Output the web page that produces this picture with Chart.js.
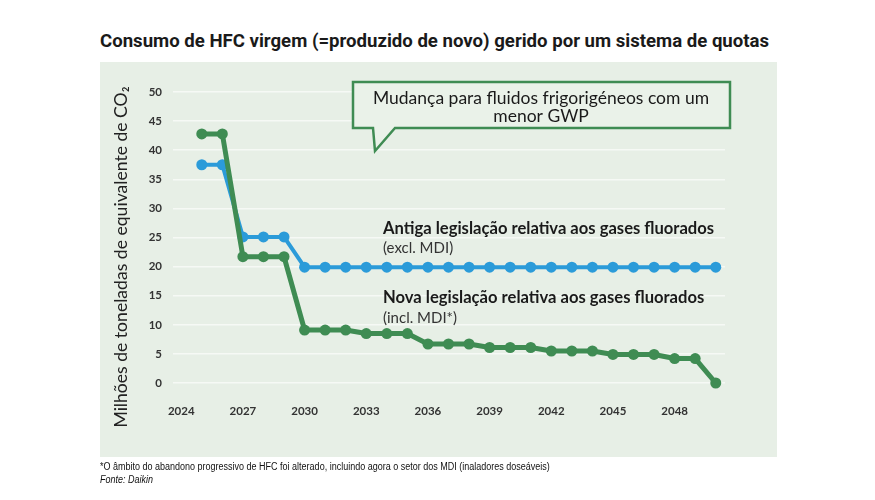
<!DOCTYPE html>
<html lang="pt">
<head>
<meta charset="utf-8">
<title>Consumo de HFC virgem</title>
<script src="https://cdn.jsdelivr.net/npm/chart.js@4.4.1/dist/chart.umd.min.js"></script>
<style>
  html, body { margin: 0; padding: 0; background: #fff; }
  #page { position: relative; width: 875px; height: 500px; overflow: hidden; }
  #title {
    position: absolute; left: 100px; top: 30px;
    font: bold 18.6px "Liberation Sans Narrow", "Roboto", sans-serif;
    color: #1a1a1a; white-space: nowrap;
  }
  #panel { position: absolute; left: 100px; top: 62px; width: 677px; height: 395px; background: #e7efe6; }
  #chart { position: absolute; left: 0; top: 0; }
  #note {
    position: absolute; left: 100px; top: 460px;
    font: 10px "Liberation Sans", sans-serif;
    color: #111; line-height: 13px; white-space: nowrap;
    transform: scaleX(0.9); transform-origin: left top;
  }
</style>
</head>
<body>
<div id="page">
  <div id="title">Consumo de HFC virgem (=produzido de novo) gerido por um sistema de quotas</div>
  <div id="panel"></div>
  <canvas id="chart" width="875" height="500"></canvas>
  <div id="note">*O âmbito do abandono progressivo de HFC foi alterado, incluindo agora o setor dos MDI (inaladores doseáveis)<br><em>Fonte: Daikin</em></div>
</div>
<script>
// data (milhões de t CO2-eq)
const years = [2025, 2026, 2027, 2028, 2029, 2030, 2031, 2032, 2033, 2034, 2035, 2036, 2037,
               2038, 2039, 2040, 2041, 2042, 2043, 2044, 2045, 2046, 2047, 2048, 2049, 2050];
const oldRegulation = [37.5, 37.5, 25.1, 25.1, 25.1, 19.9, 19.9, 19.9, 19.9, 19.9, 19.9, 19.9, 19.9,
                       19.9, 19.9, 19.9, 19.9, 19.9, 19.9, 19.9, 19.9, 19.9, 19.9, 19.9, 19.9, 19.9];
const newRegulation = [42.8, 42.8, 21.7, 21.7, 21.7, 9.1, 9.1, 9.1, 8.5, 8.5, 8.5, 6.7, 6.7,
                       6.7, 6.1, 6.1, 6.1, 5.5, 5.5, 5.5, 4.9, 4.9, 4.9, 4.2, 4.2, 0];
const xTicks = [2024, 2027, 2030, 2033, 2036, 2039, 2042, 2045, 2048];
const yTicks = [0, 5, 10, 15, 20, 25, 30, 35, 40, 45, 50];

const blue = "#2b9bd9";
const green = "#3f8c53";

// callout + series labels + y title
const notes = {
  id: "notes",
  afterDraw(chart) {
    const ctx = chart.ctx;
    ctx.save();

    // y axis title
    ctx.save();
    ctx.translate(121, 257);
    ctx.rotate(-Math.PI / 2);
    ctx.fillStyle = "#222";
    ctx.font = "17.6px Lato";
    ctx.textAlign = "center";
    ctx.textBaseline = "middle";
    ctx.fillText("Milhões de toneladas de equivalente de CO₂", 0, 0);
    ctx.restore();

    // speech bubble
    ctx.beginPath();
    ctx.moveTo(353, 82);
    ctx.lineTo(730, 82);
    ctx.lineTo(730, 128);
    ctx.lineTo(395, 128);
    ctx.lineTo(375, 151);
    ctx.lineTo(373, 128);
    ctx.lineTo(353, 128);
    ctx.closePath();
    ctx.fillStyle = "#eaf2e9";
    ctx.fill();
    ctx.lineWidth = 2.5;
    ctx.strokeStyle = green;
    ctx.stroke();

    ctx.fillStyle = "#1a1a1a";
    ctx.font = "17.5px Lato";
    ctx.textAlign = "center";
    ctx.textBaseline = "middle";
    ctx.fillText("Mudança para fluidos frigorigéneos com um", 541, 98);
    ctx.fillText("menor GWP", 541, 116);

    // series labels
    ctx.textAlign = "left";
    ctx.font = "bold 16.6px Lato";
    ctx.fillText("Antiga legislação relativa aos gases fluorados", 383, 229);
    ctx.fillText("Nova legislação relativa aos gases fluorados", 383, 298);
    ctx.font = "15px Lato";
    ctx.fillStyle = "#333";
    ctx.fillText("(excl. MDI)", 383, 248);
    ctx.fillText("(incl. MDI*)", 383, 318);

    ctx.restore();
  }
};

new Chart(document.getElementById("chart"), {
  type: "line",
  data: {
    datasets: [
      {
        label: "Antiga legislação relativa aos gases fluorados (excl. MDI)",
        data: years.map((y, i) => ({ x: y, y: oldRegulation[i] })),
        borderColor: blue,
        backgroundColor: blue,
        borderWidth: 4,
        pointRadius: 5.5,
        pointBorderWidth: 0,
        clip: false,
        order: 1
      },
      {
        label: "Nova legislação relativa aos gases fluorados (incl. MDI*)",
        data: years.map((y, i) => ({ x: y, y: newRegulation[i] })),
        borderColor: green,
        backgroundColor: green,
        borderWidth: 5,
        pointRadius: 5.5,
        pointBorderWidth: 0,
        clip: false,
        order: 0
      }
    ]
  },
  options: {
    responsive: false,
    animation: false,
    borderJoinStyle: "round",
    layout: { padding: { left: 108, right: 150, top: 92, bottom: 60 } },
    plugins: { legend: { display: false }, tooltip: { enabled: false } },
    scales: {
      x: {
        type: "linear",
        min: 2023.6,
        max: 2050.45,
        afterFit: s => { s.height = 57; },
        afterBuildTicks: s => { s.ticks = xTicks.map(v => ({ value: v })); },
        grid: { display: false, drawTicks: false },
        border: { display: false },
        ticks: {
          padding: 21,
          color: "#333",
          font: { family: "Lato", weight: "bold", size: 11.5 },
          callback: v => String(v),
          maxRotation: 0
        }
      },
      y: {
        min: 0,
        max: 50,
        afterFit: s => { s.width = 65; },
        afterBuildTicks: s => { s.ticks = yTicks.map(v => ({ value: v })); },
        grid: { color: "#f6f9f5", lineWidth: 1.5, drawTicks: false },
        border: { display: false },
        ticks: {
          padding: 11,
          color: "#333",
          font: { family: "Lato", weight: "bold", size: 11.5 }
        }
      }
    }
  },
  plugins: [notes]
});
</script>
</body>
</html>
